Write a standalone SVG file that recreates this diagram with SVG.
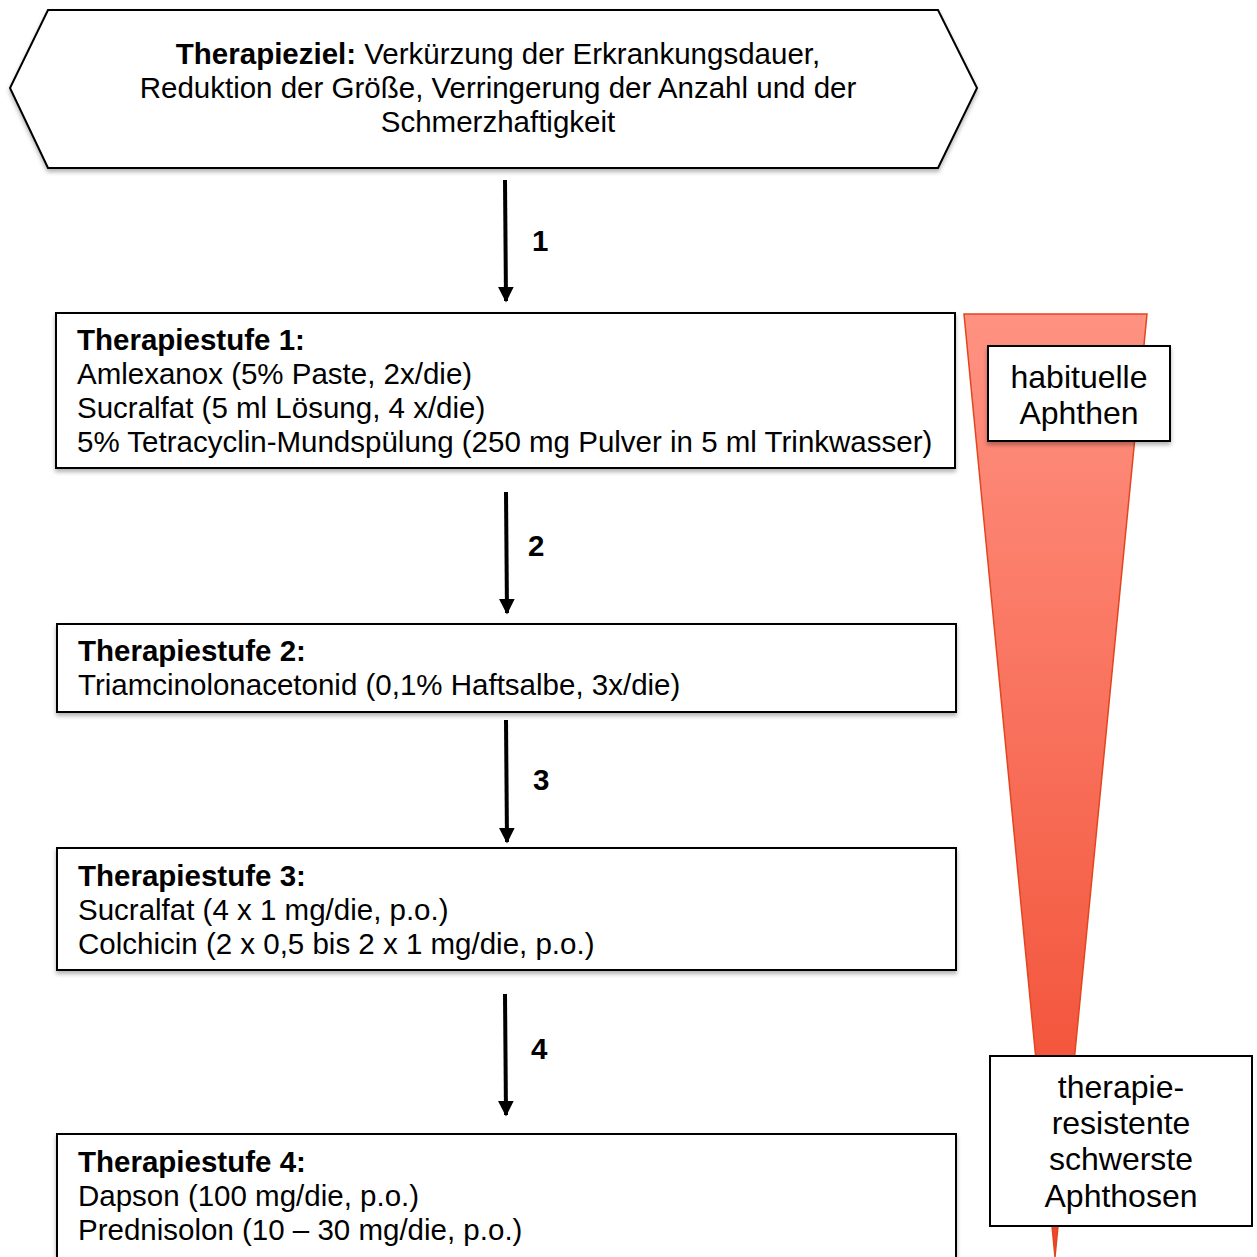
<svg xmlns="http://www.w3.org/2000/svg" width="1257" height="1257" viewBox="0 0 1257 1257">
<defs>
<style>
text{font-family:"Liberation Sans",Arial,sans-serif;fill:#000}
.t{font-size:29.5px}
.b{font-weight:bold}
.s{font-size:32px}
.box{fill:#fff;stroke:#000;stroke-width:2}
.arr{stroke:#000;stroke-width:4;fill:none}
</style>
<linearGradient id="g" x1="0" y1="0" x2="0" y2="1">
<stop offset="0" stop-color="#FF9282"/>
<stop offset="1" stop-color="#F0462A"/>
</linearGradient>
<marker id="ah" viewBox="0 0 10 10" refX="9" refY="5" markerWidth="4" markerHeight="4" orient="auto" markerUnits="strokeWidth">
<path d="M0,0 L10,5 L0,10 z" fill="#000"/>
</marker>
<filter id="sh" x="-5%" y="-5%" width="110%" height="115%">
<feDropShadow dx="0" dy="3" stdDeviation="2" flood-color="#000" flood-opacity="0.3"/>
</filter>
</defs>
<g id="triangle">
<polygon points="964,314 1147,314 1055,1257" fill="url(#g)" stroke="#E2461E" stroke-width="1.5"/>
</g>
<g id="goal">
<polygon class="box" filter="url(#sh)" points="48,10 938,10 977,88 938,168 48,168 10,88"/>
<text class="t" text-anchor="middle" x="498" y="64"><tspan class="b">Therapieziel:</tspan> Verkürzung der Erkrankungsdauer,</text>
<text class="t" text-anchor="middle" x="498" y="98">Reduktion der Größe, Verringerung der Anzahl und der</text>
<text class="t" text-anchor="middle" x="498" y="132">Schmerzhaftigkeit</text>
</g>
<g id="connectors">
<line class="arr" x1="505" y1="180" x2="506" y2="301" marker-end="url(#ah)"/>
<line class="arr" x1="506" y1="492" x2="507" y2="613" marker-end="url(#ah)"/>
<line class="arr" x1="506" y1="720" x2="507" y2="842" marker-end="url(#ah)"/>
<line class="arr" x1="505" y1="994" x2="506" y2="1115" marker-end="url(#ah)"/>
<text class="t b" x="532" y="251">1</text>
<text class="t b" x="528" y="556">2</text>
<text class="t b" x="533" y="790">3</text>
<text class="t b" x="531" y="1059">4</text>
</g>
<g id="stufe1">
<rect class="box" filter="url(#sh)" x="56" y="313" width="899" height="155"/>
<text class="t b" x="77" y="350">Therapiestufe 1:</text>
<text class="t" x="77" y="384">Amlexanox (5% Paste, 2x/die)</text>
<text class="t" x="77" y="418">Sucralfat (5 ml Lösung, 4 x/die)</text>
<text class="t" x="77" y="452">5% Tetracyclin-Mundspülung (250 mg Pulver in 5 ml Trinkwasser)</text>
</g>
<g id="stufe2">
<rect class="box" filter="url(#sh)" x="57" y="624" width="899" height="88"/>
<text class="t b" x="78" y="661">Therapiestufe 2:</text>
<text class="t" x="78" y="695">Triamcinolonacetonid (0,1% Haftsalbe, 3x/die)</text>
</g>
<g id="stufe3">
<rect class="box" filter="url(#sh)" x="57" y="848" width="899" height="122"/>
<text class="t b" x="78" y="886">Therapiestufe 3:</text>
<text class="t" x="78" y="920">Sucralfat (4 x 1 mg/die, p.o.)</text>
<text class="t" x="78" y="954">Colchicin (2 x 0,5 bis 2 x 1 mg/die, p.o.)</text>
</g>
<g id="stufe4">
<rect class="box" filter="url(#sh)" x="57" y="1134" width="899" height="130"/>
<text class="t b" x="78" y="1172">Therapiestufe 4:</text>
<text class="t" x="78" y="1206">Dapson (100 mg/die, p.o.)</text>
<text class="t" x="78" y="1240">Prednisolon (10 – 30 mg/die, p.o.)</text>
</g>
<g id="habituelle">
<rect class="box" filter="url(#sh)" x="988" y="346" width="182" height="95"/>
<text class="s" text-anchor="middle" x="1079" y="388">habituelle</text>
<text class="s" text-anchor="middle" x="1079" y="424">Aphthen</text>
</g>
<g id="resistent">
<rect class="box" x="990" y="1056" width="262" height="170"/>
<text class="s" text-anchor="middle" x="1121" y="1098">therapie-</text>
<text class="s" text-anchor="middle" x="1121" y="1134">resistente</text>
<text class="s" text-anchor="middle" x="1121" y="1170">schwerste</text>
<text class="s" text-anchor="middle" x="1121" y="1207">Aphthosen</text>
</g>
</svg>
